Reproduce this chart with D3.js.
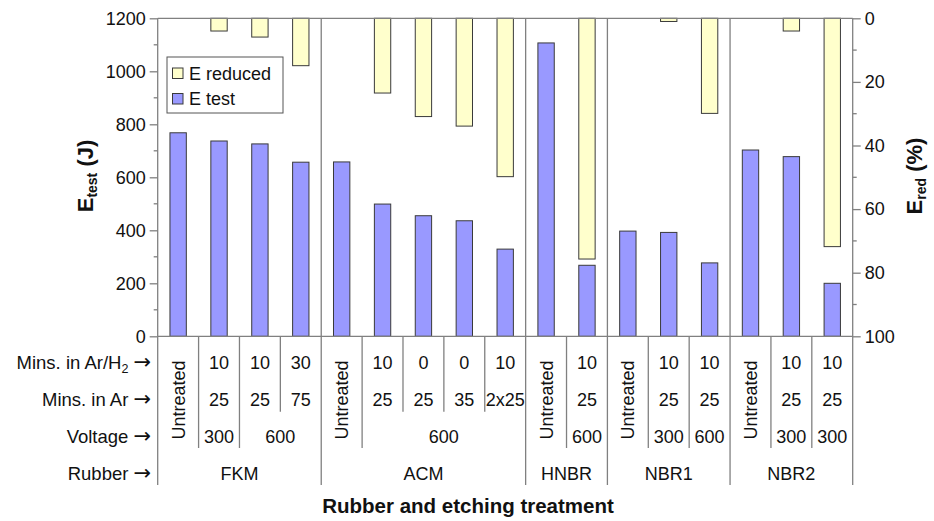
<!DOCTYPE html>
<html><head><meta charset="utf-8">
<script src="https://cdn.jsdelivr.net/npm/d3@7"></script>
<style>
html,body{margin:0;padding:0;background:#fff;}
svg{display:block;font-family:"Liberation Sans",Arial,sans-serif;}
</style></head>
<body><svg id="chart" width="934" height="521"></svg>
<script>
// ---- data ----
const categories = ["FKM-U","FKM-1","FKM-2","FKM-3","ACM-U","ACM-1","ACM-2","ACM-3","ACM-4","HNBR-U","HNBR-1","NBR1-U","NBR1-1","NBR1-2","NBR2-U","NBR2-1","NBR2-2"];
const eTest = [768, 737, 726, 657, 658, 499, 455, 436, 329, 1107, 268, 397, 392, 277, 703, 678, 200];
const eReduced = [null, 4.0, 5.9, 14.9, null, 23.5, 30.9, 33.9, 49.8, null, 75.7, null, 1.0, 29.9, null, 4.0, 71.8];
const minsArH2 = ["Untreated","10","10","30","Untreated","10","0","0","10","Untreated","10","Untreated","10","10","Untreated","10","10"];
const minsAr = [null,"25","25","75",null,"25","25","35","2x25",null,"25",null,"25","25",null,"25","25"];
const voltageSpans = [[1,1,"300"],[2,3,"600"],[5,8,"600"],[10,10,"600"],[12,12,"300"],[13,13,"600"],[15,15,"300"],[16,16,"300"]];
const rubberGroups = [[0,3,"FKM"],[4,8,"ACM"],[9,10,"HNBR"],[11,13,"NBR1"],[14,16,"NBR2"]];
// depth of the divider after category i: "full", "volt" (through voltage row), "ar" (through Ar row)
const dividerDepth = ["volt","volt","ar","full","volt","ar","ar","ar","full","volt","full","volt","volt","full","volt","volt"];
const leftTicks = [0,200,400,600,800,1000,1200];
const rightTicks = [0,20,40,60,80,100];
const rowLabels = ["Mins. in Ar/H","Mins. in Ar","Voltage","Rubber"];

// ---- layout ----
const L = 157.7, R = 852.7, T = 18.3, B = 336.3;
const rowY = [363, 400, 437, 474];
const tableBottom = 485, voltBottom = 448, arBottom = 411.7;
const BLUE = "#9999ff", YELLOW = "#ffffcc", EDGE = "#3a3a3a", GRID = "#808080";
const FS = 18;

const svg = d3.select("#chart");
const xSlot = d3.scaleBand().domain(d3.range(categories.length)).range([L, R]).padding(0);
const xBar = d3.scaleBand().domain(d3.range(categories.length)).range([L, R]).paddingInner(0.6).paddingOuter(0.3);
const yL = d3.scaleLinear().domain([0, 1200]).range([B, T]);
const yR = d3.scaleLinear().domain([0, 100]).range([T, B]);
const step = xSlot.step();

// bars
svg.append("g").selectAll("rect").data(eTest).join("rect")
  .attr("x", (d,i) => xBar(i)).attr("width", xBar.bandwidth())
  .attr("y", d => yL(d)).attr("height", d => yL(0) - yL(d))
  .attr("fill", BLUE).attr("stroke", EDGE).attr("stroke-width", 1);
svg.append("g").selectAll("rect").data(eReduced.map((v,i)=>({v,i})).filter(d=>d.v!==null)).join("rect")
  .attr("x", d => xBar(d.i)).attr("width", xBar.bandwidth())
  .attr("y", yR(0)).attr("height", d => yR(d.v) - yR(0))
  .attr("fill", YELLOW).attr("stroke", EDGE).attr("stroke-width", 1);

// frame lines
const lines = svg.append("g").attr("stroke", GRID).attr("stroke-width", 1.3);
lines.append("line").attr("x1", L).attr("x2", R).attr("y1", T).attr("y2", T);
lines.append("line").attr("x1", L).attr("x2", R).attr("y1", B).attr("y2", B);
lines.append("line").attr("x1", L).attr("x2", L).attr("y1", T).attr("y2", tableBottom);
lines.append("line").attr("x1", R).attr("x2", R).attr("y1", T).attr("y2", tableBottom);
dividerDepth.forEach((d, i) => {
  const x = xSlot(i) + step;
  const y1 = d === "full" ? T : B;
  const y2 = d === "full" ? tableBottom : d === "volt" ? voltBottom : arBottom;
  lines.append("line").attr("x1", x).attr("x2", x).attr("y1", y1).attr("y2", y2);
});

// left axis
const axL = svg.append("g").attr("transform", `translate(${L},0)`)
  .call(d3.axisLeft(yL).tickValues(leftTicks).tickSize(8).tickPadding(4).tickFormat(d3.format("d")));
axL.select(".domain").remove();
axL.selectAll(".tick line").attr("stroke", GRID).attr("stroke-width", 1.3);
axL.selectAll("text").attr("font-size", FS).attr("fill", "#111").attr("font-family", "Liberation Sans, Arial, sans-serif");
svg.append("g").attr("stroke", GRID).attr("stroke-width", 1.3).selectAll("line")
  .data(d3.range(100, 1200, 200)).join("line")
  .attr("x1", L - 4).attr("x2", L).attr("y1", d => yL(d)).attr("y2", d => yL(d));

// right axis
const axR = svg.append("g").attr("transform", `translate(${R},0)`)
  .call(d3.axisRight(yR).tickValues(rightTicks).tickSize(8).tickPadding(4));
axR.select(".domain").remove();
axR.selectAll(".tick line").attr("stroke", GRID).attr("stroke-width", 1.3);
axR.selectAll("text").attr("font-size", FS).attr("fill", "#111").attr("font-family", "Liberation Sans, Arial, sans-serif");
svg.append("g").attr("stroke", GRID).attr("stroke-width", 1.3).selectAll("line")
  .data(d3.range(10, 100, 20)).join("line")
  .attr("x1", R).attr("x2", R + 4).attr("y1", d => yR(d)).attr("y2", d => yR(d));

// table texts
const tx = svg.append("g").attr("font-size", FS).attr("fill", "#111").attr("text-anchor", "middle");
minsArH2.forEach((t, i) => {
  const cx = xSlot(i) + step / 2;
  if (t === "Untreated") {
    tx.append("text").attr("transform", `translate(${cx + 6.5},400) rotate(-90)`).text(t);
  } else {
    tx.append("text").attr("x", cx).attr("y", rowY[0]).attr("dy", "0.35em").text(t);
  }
});
minsAr.forEach((t, i) => {
  if (t === null) return;
  tx.append("text").attr("x", xSlot(i) + step / 2).attr("y", rowY[1]).attr("dy", "0.35em").text(t);
});
voltageSpans.forEach(([a, b, t]) => {
  tx.append("text").attr("x", (xSlot(a) + xSlot(b) + step) / 2).attr("y", rowY[2]).attr("dy", "0.35em").text(t);
});
rubberGroups.forEach(([a, b, t]) => {
  tx.append("text").attr("x", (xSlot(a) + xSlot(b) + step) / 2).attr("y", rowY[3]).attr("dy", "0.35em").text(t);
});

// row labels
const rl = svg.append("g").attr("font-size", FS).attr("fill", "#111").attr("text-anchor", "end");
rowLabels.forEach((t, r) => {
  const txt = rl.append("text").attr("x", 151).attr("y", rowY[r]).attr("dy", "0.35em");
  txt.append("tspan").attr("font-size", 18.5).text(t);
  if (r === 0) {
    txt.append("tspan").attr("font-size", 12.5).attr("dy", 4).text("2");
    txt.append("tspan").attr("dy", -4).text(" ");
  } else {
    txt.append("tspan").text(" ");
  }
  txt.append("tspan").attr("font-family", "DejaVu Sans").attr("font-size", 21).text("\u2192");
});

// axis titles
svg.append("text").attr("x", 468).attr("y", 513).attr("text-anchor", "middle")
  .attr("font-size", 20.5).attr("font-weight", "bold").attr("fill", "#111").text("Rubber and etching treatment");
const lt = svg.append("text").attr("transform", "translate(93,176) rotate(-90)").attr("text-anchor", "middle")
  .attr("font-size", 22).attr("font-weight", "bold").attr("fill", "#111");
lt.append("tspan").text("E");
lt.append("tspan").attr("font-size", 14).attr("dy", 4).text("test");
lt.append("tspan").attr("dy", -4).text(" (J)");
const rt = svg.append("text").attr("transform", "translate(922,176) rotate(-90)").attr("text-anchor", "middle")
  .attr("font-size", 22).attr("font-weight", "bold").attr("fill", "#111");
rt.append("tspan").text("E");
rt.append("tspan").attr("font-size", 14).attr("dy", 4).text("red");
rt.append("tspan").attr("dy", -4).text(" (%)");

// legend
const lg = svg.append("g");
lg.append("rect").attr("x", 167).attr("y", 57).attr("width", 116).attr("height", 56)
  .attr("fill", "#fff").attr("stroke", "#555").attr("stroke-width", 1);
const legendItems = [["E reduced", YELLOW], ["E test", BLUE]];
legendItems.forEach(([name, col], k) => {
  const yy = 68 + k * 25.5;
  lg.append("rect").attr("x", 172.5).attr("y", yy).attr("width", 10.5).attr("height", 10.5)
    .attr("fill", col).attr("stroke", EDGE).attr("stroke-width", 1);
  lg.append("text").attr("x", 189).attr("y", yy + 5.5).attr("dy", "0.35em").attr("font-size", FS).attr("fill", "#111").text(name);
});
</script></body></html>
